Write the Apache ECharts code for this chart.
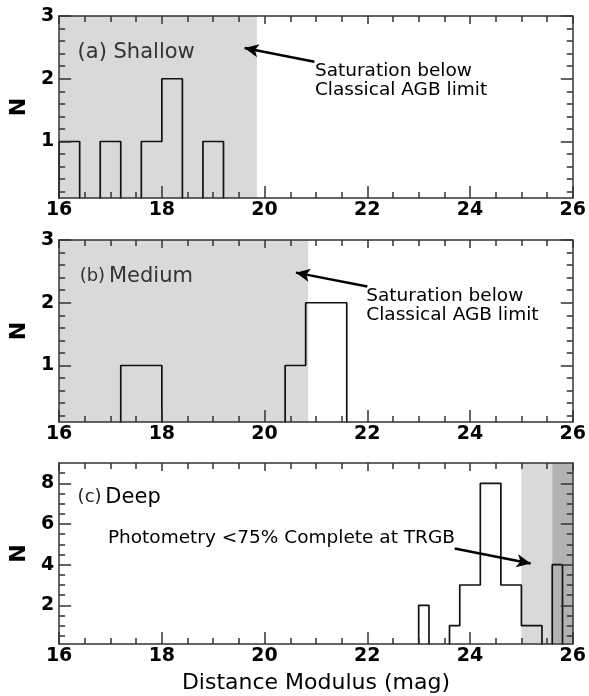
<!DOCTYPE html>
<html>
<head>
<meta charset="utf-8">
<script src="https://cdn.jsdelivr.net/npm/echarts@6/dist/echarts.min.js"></script>
<style>
html, body { margin: 0; padding: 0; background: #fff; }
#main { width: 589px; height: 696px; }
</style>
</head>
<body>
<div id="main"></div>
<script>
// histogram bin edges (n+1) and counts (n) per panel
const edgesShallow = [16.0, 16.4, 16.8, 17.2, 17.6, 18.0, 18.4, 18.8, 19.2];
const countsShallow = [1, 0, 1, 0, 1, 2, 0, 1];
const edgesMedium = [17.2, 17.6, 18.0, 18.4, 18.8, 19.2, 19.6, 20.0, 20.4, 20.8, 21.2, 21.6];
const countsMedium = [1, 1, 0, 0, 0, 0, 0, 0, 1, 2, 2];
const edgesDeep = [23.0, 23.2, 23.4, 23.6, 23.8, 24.0, 24.2, 24.4, 24.6, 24.8, 25.0, 25.2, 25.4, 25.6, 25.8];
const countsDeep = [2, 0, 0, 1, 3, 3, 8, 8, 3, 3, 1, 1, 0, 4];

// shaded x ranges
const shadeShallow = [16, 19.85];
const shadeMedium = [16, 20.85];
const shadeDeepLight = [25.0, 25.6];
const shadeDeepDark = [25.6, 26];

// y ticks
const yMajorSM = [1, 2, 3];
const yMinorSM = [0.2, 0.4, 0.6, 0.8, 1.2, 1.4, 1.6, 1.8, 2.2, 2.4, 2.6, 2.8];
const yMajorDeep = [2, 4, 6, 8];
const yMinorDeep = [0.5, 1, 1.5, 2.5, 3, 3.5, 4.5, 5, 5.5, 6.5, 7, 7.5, 8.5];
const yMaxes = [3, 3, 9];

// annotations [x, y] in data units
const arrowShallow = [[20.97, 2.27], [19.61, 2.49]];
const arrowMedium = [[22.0, 2.26], [20.61, 2.48]];
const arrowDeep = [[23.7, 4.8], [25.18, 4.06]];
const textShallowTag = [16.36, 2.42];
const textMediumTag = [16.4, 2.42];
const textDeepTag = [16.36, 7.32];
const textSatShallow = [20.98, 1.97];
const textSatMedium = [21.98, 1.96];
const textPhot = [16.95, 5.32];

const font = 'DejaVu Sans';
const axisColor = '#333';
const tops = [16, 240, 463];
const heights = [182, 182, 181];

function stepData (edges, counts) {
  let d = [[edges[0], 0]];
  counts.forEach((c, i) => { d.push([edges[i], c]); });
  d.push([edges[edges.length - 1], 0]);
  return d;
}

const chart = echarts.init(document.getElementById('main'));

let grids = [], xAxes = [], yAxes = [], series = [];
const lineStyle = { color: axisColor, width: 1.5 };

for (let i = 0; i < 3; i++) {
  grids.push({ left: 52, right: 14, top: tops[i], height: heights[i] });
  // bottom + top x axes
  xAxes.push({
    gridIndex: i, type: 'value', position: 'bottom', min: 16, max: 26, interval: 2, z: 5,
    axisLine: { show: true, onZero: false, lineStyle: lineStyle },
    axisTick: { show: true, inside: true, length: 12, lineStyle: lineStyle },
    minorTick: { show: true, splitNumber: 4, length: 6, lineStyle: lineStyle },
    axisLabel: { show: true, margin: 3, color: '#000', fontSize: 19, fontWeight: 'bold', fontFamily: font, showMinLabel: true, showMaxLabel: true },
    splitLine: { show: false },
    name: i === 2 ? 'Distance Modulus (mag)' : '',
    nameLocation: 'middle', nameGap: 28,
    nameTextStyle: { color: '#000', fontSize: 22, fontFamily: font }
  });
  xAxes.push({
    gridIndex: i, type: 'value', position: 'top', min: 16, max: 26, interval: 2, z: 5,
    axisLine: { show: true, onZero: false, lineStyle: lineStyle },
    axisTick: { show: true, inside: true, length: 8, lineStyle: lineStyle },
    minorTick: { show: true, splitNumber: 4, length: 6, lineStyle: lineStyle },
    axisLabel: { show: false },
    splitLine: { show: false }
  });
  const major = i === 2 ? yMajorDeep : yMajorSM;
  const minor = i === 2 ? yMinorDeep : yMinorSM;
  ['left', 'right'].forEach(pos => {
    yAxes.push({
      gridIndex: i, type: 'value', position: pos, min: 0.1, max: yMaxes[i], z: 5,
      axisLine: { show: true, onZero: false, lineStyle: lineStyle },
      axisTick: { show: true, inside: true, length: 12, lineStyle: lineStyle, customValues: major },
      axisLabel: { show: pos === 'left', margin: 5, color: '#000', fontSize: 19, fontWeight: 'bold', fontFamily: font, customValues: major },
      splitLine: { show: false },
      name: pos === 'left' ? 'N' : '',
      nameLocation: 'middle', nameGap: 24,
      nameTextStyle: { color: '#000', fontSize: 22, fontWeight: 'bold', fontFamily: font }
    });
    yAxes.push({
      gridIndex: i, type: 'value', position: pos, min: 0.1, max: yMaxes[i], z: 5,
      axisLine: { show: false, onZero: false },
      axisTick: { show: true, inside: true, length: 6, lineStyle: lineStyle, customValues: minor },
      axisLabel: { show: false },
      splitLine: { show: false }
    });
  });
}

function arrowLine (a) {
  return [{ coord: a[0] }, { coord: a[1] }];
}
const markLineBase = {
  silent: true, symbol: ['none', 'arrow'], symbolSize: [10, 14],
  label: { show: false },
  lineStyle: { color: '#000', width: 2.5, type: 'solid' }
};

const histSets = [
  [edgesShallow, countsShallow, [[{ xAxis: shadeShallow[0], itemStyle: { color: '#d9d9d9' } }, { xAxis: shadeShallow[1] }]], arrowShallow],
  [edgesMedium, countsMedium, [[{ xAxis: shadeMedium[0], itemStyle: { color: '#d9d9d9' } }, { xAxis: shadeMedium[1] }]], arrowMedium],
  [edgesDeep, countsDeep, [
    [{ xAxis: shadeDeepLight[0], itemStyle: { color: '#d9d9d9' } }, { xAxis: shadeDeepLight[1] }],
    [{ xAxis: shadeDeepDark[0], itemStyle: { color: '#b2b2b2' } }, { xAxis: shadeDeepDark[1] }]
  ], arrowDeep]
];

histSets.forEach((h, i) => {
  series.push({
    type: 'line', xAxisIndex: 2 * i, yAxisIndex: 4 * i,
    data: stepData(h[0], h[1]), step: 'end', symbol: 'none', clip: true, silent: true,
    lineStyle: { color: '#111', width: 1.7 },
    markArea: { silent: true, data: h[2] },
    markLine: Object.assign({}, markLineBase, { data: [arrowLine(h[3])] })
  });
});

chart.setOption({
  animation: false,
  backgroundColor: '#fff',
  grid: grids,
  xAxis: xAxes,
  yAxis: yAxes,
  series: series
});

// text annotations placed through the axes' scales
function px (i, p) {
  return chart.convertToPixel({ xAxisIndex: 2 * i, yAxisIndex: 4 * i }, p);
}
function txt (i, p, text, style) {
  const q = px(i, p);
  return { type: 'text', x: q[0], y: q[1], z: 20, silent: true,
    style: Object.assign({ text: text, align: 'left', verticalAlign: 'middle', fontFamily: font }, style) };
}

chart.setOption({
  graphic: [
    txt(0, textShallowTag, '(a) Shallow', { fill: '#333', fontSize: 21 }),
    txt(1, textMediumTag, '{s|(b)} {b|Medium}', { fill: '#333', rich: {
      s: { fontSize: 18, fill: '#333', fontFamily: font },
      b: { fontSize: 21, fill: '#333', fontFamily: font } } }),
    txt(2, textDeepTag, '{s|(c)} {b|Deep}', { fill: '#000', rich: {
      s: { fontSize: 18, fill: '#222', fontFamily: font },
      b: { fontSize: 21, fill: '#000', fontFamily: font } } }),
    txt(0, textSatShallow, 'Saturation below\nClassical AGB limit', { fill: '#000', fontSize: 18.5, lineHeight: 19 }),
    txt(1, textSatMedium, 'Saturation below\nClassical AGB limit', { fill: '#000', fontSize: 18.5, lineHeight: 19 }),
    txt(2, textPhot, 'Photometry <75% Complete at TRGB', { fill: '#000', fontSize: 18.5 })
  ]
});

window.onresize = () => { chart.resize() };
</script>
</body>
</html>
